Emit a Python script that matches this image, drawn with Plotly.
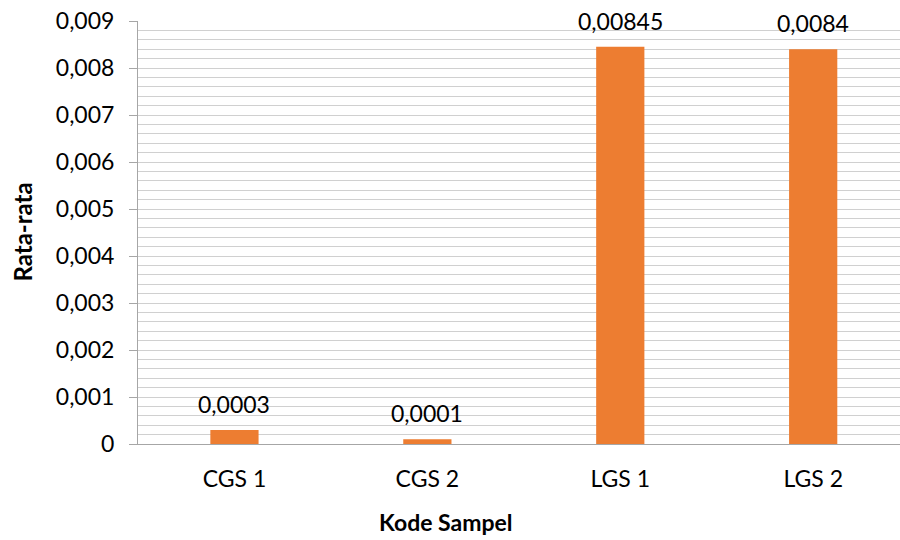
import plotly.graph_objects as go

categories = ["CGS 1", "CGS 2", "LGS 1", "LGS 2"]
values = [0.0003, 0.0001, 0.00845, 0.0084]
labels = ["0,0003", "0,0001", "0,00845", "0,0084"]
y_tickvals = [0, 0.001, 0.002, 0.003, 0.004, 0.005, 0.006, 0.007, 0.008, 0.009]
y_ticktext = ["0", "0,001", "0,002", "0,003", "0,004", "0,005", "0,006", "0,007", "0,008", "0,009"]

FONT = "Lato"
FS = 23
BAR = "#ED7D31"
GRID = "#D0D0D0"
AXIS = "#A6A6A6"

L, R, T, B = 138, 0, 21, 96
W, H = 900, 540

fig = go.Figure()
fig.add_trace(go.Bar(
    x=categories, y=values, marker=dict(color=BAR, line=dict(width=0)),
    width=0.25, hoverinfo="skip",
))

for c, v, t in zip(categories, values, labels):
    fig.add_annotation(
        x=c, y=v, xref="x", yref="y", text=t, showarrow=False,
        yanchor="middle", xanchor="center", yshift=26,
        font=dict(family=FONT, size=FS, color="#000000"),
    )

fig.update_layout(
    width=W, height=H,
    margin=dict(l=L, r=R, t=T, b=B),
    paper_bgcolor="white", plot_bgcolor="white",
    showlegend=False,
    font=dict(family=FONT, size=FS, color="#000000"),
    xaxis=dict(
        range=[-0.5, 3.45], showgrid=False, showline=True, linecolor=AXIS, linewidth=1,
        ticks="", tickfont=dict(family=FONT, size=FS), ticklabelstandoff=14,
        zeroline=False,
    ),
    yaxis=dict(
        range=[0, 0.009], tickvals=y_tickvals, ticktext=y_ticktext,
        showgrid=True, gridcolor=GRID, gridwidth=1,
        showline=True, linecolor=AXIS, linewidth=1,
        ticks="outside", ticklen=8, tickcolor=AXIS, ticklabelstandoff=10,
        tickfont=dict(family=FONT, size=FS), zeroline=False,
        minor=dict(dtick=0.0002, showgrid=True, gridcolor=GRID, gridwidth=1, ticks=""),
    ),
)

plot_w = W - L - R
plot_h = H - T - B
fig.add_annotation(
    text="<b>Kode Sampel</b>", xref="paper", yref="paper",
    x=(446 - L) / plot_w, y=-(538 - (H - B)) / plot_h,
    showarrow=False, font=dict(family=FONT, size=23), xanchor="center", yanchor="bottom",
)
fig.add_annotation(
    text="<b>Rata-rata</b>", xref="paper", yref="paper",
    x=-(L - 22) / plot_w, y=0.5, textangle=-90,
    showarrow=False, font=dict(family=FONT, size=24), xanchor="center", yanchor="middle",
)

fig.write_html("out.html")
